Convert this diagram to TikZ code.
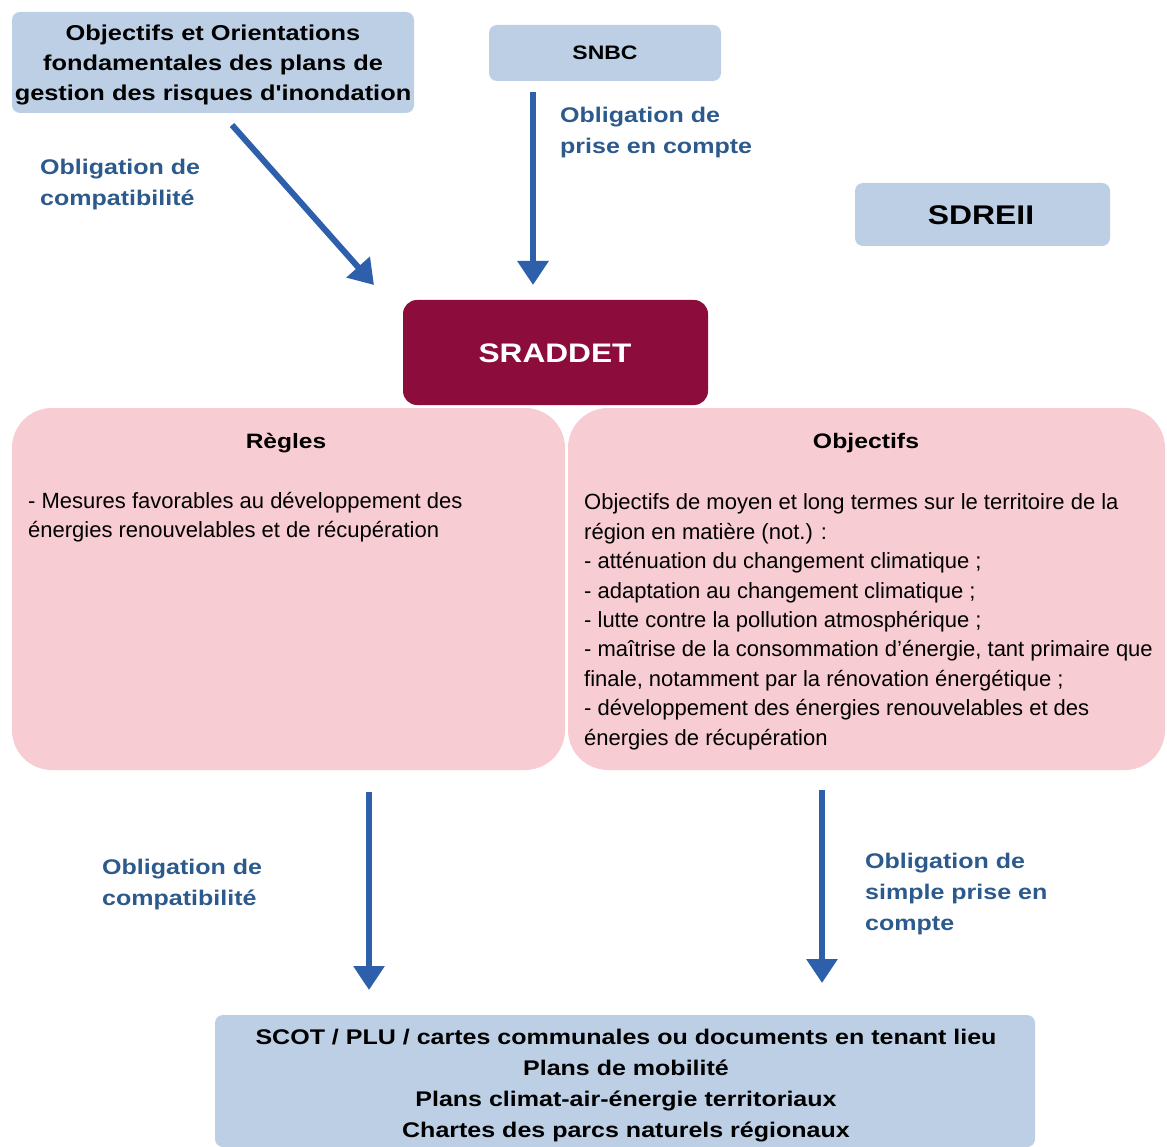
\documentclass[tikz,border=0pt]{standalone}
\usepackage{fontspec}
\setmainfont{Liberation Sans}
\newfontfamily\widefont[FakeStretch=1.18]{Liberation Sans}
\usetikzlibrary{arrows.meta}
\definecolor{boxblue}{HTML}{BCCFE5}
\definecolor{boxpink}{HTML}{F8CCD3}
\definecolor{sradred}{HTML}{8C0C3C}
\definecolor{arrowblue}{HTML}{2E5FAA}
\definecolor{labelblue}{HTML}{2C5A8C}
\tikzset{
  bluebox/.style={fill=boxblue, rounded corners=8pt, inner sep=0pt},
  pinkbox/.style={fill=boxpink, rounded corners=40pt, inner sep=0pt},
  boldtext/.style={font=\widefont\fontsize{21.3}{30}\selectfont\bfseries, inner sep=0pt, align=center},
  bodytext/.style={font=\fontsize{22}{29.4}\selectfont, align=left, inner sep=0pt, anchor=north west},
  oblabel/.style={font=\widefont\fontsize{21.2}{31}\selectfont\bfseries, text=labelblue, align=left, inner sep=0pt, anchor=north west},
  bigarrow/.style={draw=arrowblue, line width=6pt, -{Triangle[width=30pt,length=24pt]}, arrowblue},
}
\begin{document}
\begin{tikzpicture}[x=1pt,y=-1pt]
\useasboundingbox (0,0) rectangle (1167,1147);
\fill[white] (0,0) rectangle (1167,1147);

% top boxes
\node[bluebox, minimum width=402pt, minimum height=101pt] (pgri) at (213,62.5) {};
\node[boldtext, anchor=north, font=\widefont\fontsize{21.5}{30}\selectfont\bfseries] (pgriT) at (213,25)
  {Objectifs et Orientations\\fondamentales des plans de\\gestion des risques d'inondation};
\node[bluebox, minimum width=232pt, minimum height=56pt] (snbc) at (605,53) {};
\node[boldtext, font=\widefont\fontsize{19.5}{30}\selectfont\bfseries] (snbcT) at (605,53) {SNBC};
\node[bluebox, minimum width=255pt, minimum height=63pt] (sdreii) at (982.5,214.5) {};
\node[boldtext, font=\widefont\fontsize{27}{30}\selectfont\bfseries] (sdreiiT) at (981,215) {SDREII};

% SRADDET
\node[fill=sradred, rounded corners=14pt, minimum width=305pt, minimum height=105pt, inner sep=0pt] (sraddet) at (555.5,352.5) {};
\node[boldtext, text=white, font=\widefont\fontsize{26.8}{30}\selectfont\bfseries] (sraddetT) at (555,353) {SRADDET};

% pink boxes
\node[pinkbox, minimum width=553pt, minimum height=362pt] (regles) at (288.5,589) {};
\node[pinkbox, minimum width=597pt, minimum height=362pt] (objectifs) at (866.5,589) {};

\node[boldtext, font=\widefont\fontsize{20.8}{30}\selectfont\bfseries] (reglesT) at (286,443) {Règles};
\node[boldtext, font=\widefont\fontsize{21}{30}\selectfont\bfseries] (objectifsT) at (866,443) {Objectifs};

\node[bodytext] (reglesB) at (28,491.7) {- Mesures favorables au développement des\\énergies renouvelables et de récupération};
\node[bodytext] (objectifsB) at (584,493.7) {Objectifs de moyen et long termes sur le territoire de la\\
région en matière (not.) :\\
- atténuation du changement climatique ;\\
- adaptation au changement climatique ;\\
- lutte contre la pollution atmosphérique ;\\
- maîtrise de la consommation d'énergie, tant primaire que\\
finale, notamment par la rénovation énergétique ;\\
- développement des énergies renouvelables et des\\
énergies de récupération};

% bottom box
\node[bluebox, minimum width=820pt, minimum height=132pt] (docs) at (625,1081) {};
\node[boldtext, anchor=north, font=\widefont\fontsize{21.2}{31}\selectfont\bfseries] (docsT) at (626,1029)
  {SCOT / PLU / cartes communales ou documents en tenant lieu\\Plans de mobilité\\Plans climat-air-énergie territoriaux\\Chartes des parcs naturels régionaux};

% arrow end points
\coordinate (a1s) at (232,125);
\coordinate (a1e) at (374,285);
\coordinate (a2s) at (533,92);
\coordinate (a2e) at (533,285);
\coordinate (a3s) at (369,792);
\coordinate (a3e) at (369,990);
\coordinate (a4s) at (822,790);
\coordinate (a4e) at (822,983);

\draw[bigarrow] (a1s) -- (a1e);
\draw[bigarrow] (a2s) -- (a2e);
\draw[bigarrow] (a3s) -- (a3e);
\draw[bigarrow] (a4s) -- (a4e);

% labels
\node[oblabel] (l1) at (40,159) {Obligation de\\compatibilité};
\node[oblabel] (l2) at (560,107) {Obligation de\\prise en compte};
\node[oblabel] (l3) at (102,859) {Obligation de\\compatibilité};
\node[oblabel] (l4) at (865,853) {Obligation de\\simple prise en\\compte};
\end{tikzpicture}
\end{document}
